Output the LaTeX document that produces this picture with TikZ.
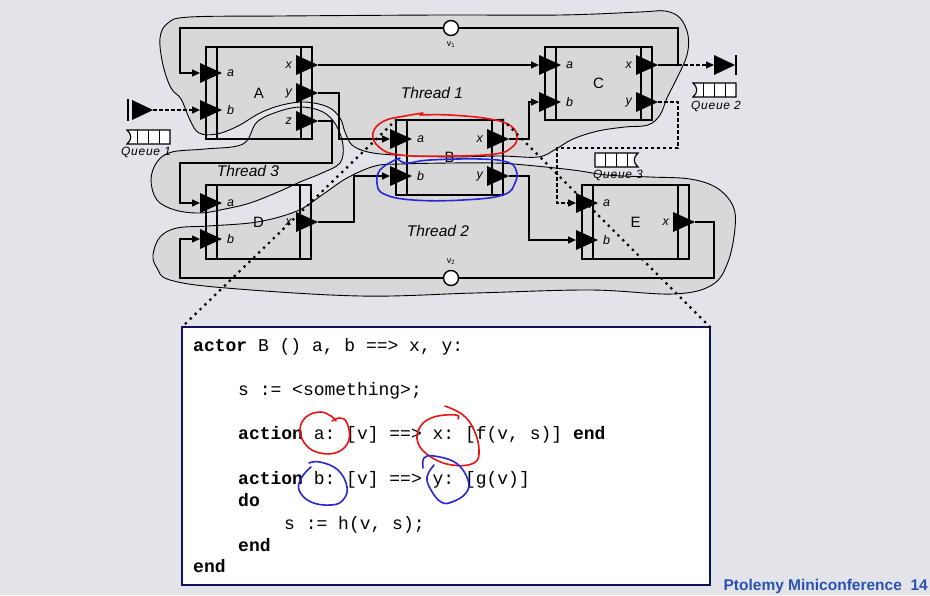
\documentclass[tikz,border=0pt]{standalone}
\usepackage{fontspec}
\setmainfont{Liberation Sans}
\setmonofont{Liberation Mono}
\newfontfamily\qfont[LetterSpace=6]{Liberation Sans}
\usetikzlibrary{arrows.meta,calc}
\definecolor{slidebg}{RGB}{226,228,233}
\definecolor{blobgray}{RGB}{216,216,216}
\definecolor{codeframe}{RGB}{16,16,96}
\definecolor{penred}{RGB}{235,20,20}
\definecolor{penblue}{RGB}{40,40,210}
\definecolor{footblue}{RGB}{42,82,178}
\tikzset{
  thread/.style={draw=black, line width=0.9pt, fill=blobgray},
  actorbox/.style={draw=black, line width=1.8pt, outer sep=0pt, inner sep=0pt,
                   font=\fontsize{15}{15}\selectfont},
  line/.style={line width=1.5pt},
  wire/.style={line, -{Triangle[length=8pt,width=7pt]}},
  qwire/.style={wire, dash pattern=on 3.5pt off 2.5pt},
  zoomline/.style={line width=3.2pt, line cap=round, dash pattern=on 0pt off 6.8pt},
  penmark/.style={line width=1.6pt, line cap=round, line join=round},
  portlbl/.style={font=\fontsize{12.5}{12.5}\selectfont\itshape, inner sep=0pt},
  threadlbl/.style={font=\fontsize{15.5}{15.5}\selectfont\itshape, inner sep=0pt},
  qlbl/.style={font=\fontsize{12}{12}\qfont\itshape, inner sep=0pt},
  vlbl/.style={font=\fontsize{9}{9}\selectfont, inner sep=0pt},
  relation/.style={circle, draw=black, line width=1.4pt, fill=white,
                   minimum size=15pt, inner sep=0pt},
  codebox/.style={draw=codeframe, line width=2pt, fill=white, outer sep=0pt},
  codeline/.style={anchor=base west, inner sep=0pt, font=\fontsize{18}{18}\ttfamily},
}
\newcommand{\kw}[1]{{\bfseries #1}}
% actor: name, centre x, centre y, width, height, label
\newcommand{\actor}[6]{%
  \node[actorbox, minimum width=#4pt, minimum height=#5pt] (#1) at (#2,#3) {#6};
  \draw[actorbox] ([xshift=11pt]#1.north west) -- ([xshift=11pt]#1.south west)
                  ([xshift=-11pt]#1.north east) -- ([xshift=-11pt]#1.south east);}
% input port, (name) = base of the triangle
\newcommand{\inport}[4]{%
  \coordinate (#1) at (#2,#3);
  \fill (#1) -- ++(0,-10) -- ++(22,10) -- ++(-22,10) -- cycle;
  \node[portlbl, anchor=west] (#1l) at ({#2+27},#3) {#4};}
% output port, (name) = tip of the triangle
\newcommand{\outport}[4]{%
  \coordinate (#1) at (#2,#3);
  \fill (#1) -- ++(-22,-10) -- ++(0,20) -- cycle;
  \node[portlbl, anchor=east] (#1l) at ({#2-26},#3) {#4};}
% queue: name, notch x, top, direction
\newcommand{\fifo}[4]{%
  \draw[line width=1.2pt, fill=white] (#2,#3) -- ++({#4*43},0) -- ++(0,14) -- (#2,{#3+14})
    .. controls ({#2+#4*5},{#3+10}) and ({#2+#4*5},{#3+4}) .. cycle;
  \foreach \k in {1,2,3} \draw[line width=1.2pt] ({#2+#4*10.75*\k},#3) -- ++(0,14);
  \coordinate (#1) at ({#2+#4*21.5},{#3+14});}

\begin{document}
\begin{tikzpicture}[x=1pt, y=-1pt]
  \fill[slidebg] (0,0) rectangle (930,595);
  \useasboundingbox (0,0) rectangle (930,595);
  % threads
  \draw[thread] plot[smooth cycle, tension=0.6] coordinates {
    (160,38) (168,23) (190,17) (280,16) (440,15) (560,15) (640,12) (665,11)
    (680,18) (688,35) (687,55) (677,78) (667,98) (660,115) (648,125) (625,127)
    (598,131) (573,139) (556,149) (538,157) (500,156) (450,157) (395,155)
    (368,152) (352,145) (345,132) (340,118) (328,107) (305,102) (282,105)
    (260,113) (238,126) (217,134) (199,133) (190,120) (181,99) (171,88) (163,65)};
  \draw[thread] plot[smooth cycle, tension=0.6] coordinates {
    (153,255) (160,237) (177,228) (208,226) (257,222) (297,211) (322,195)
    (347,178) (375,166) (400,164) (450,163) (495,163) (525,165) (573,170)
    (607,175) (650,177) (690,179) (717,188) (733,206) (735,228) (728,262)
    (712,285) (673,294) (590,290) (475,293) (360,296) (226,288) (170,280) (157,268)};
  \draw[thread] plot[smooth cycle, tension=0.6] coordinates {
    (172,152) (205,149) (243,144) (257,122) (280,111) (302,107) (323,112)
    (336,125) (343,145) (340,163) (322,173) (300,182) (278,192) (250,203)
    (225,209) (200,213) (175,210) (157,200) (151,180) (157,162)};
  \node[threadlbl] (t1) at (432,93) {Thread 1};
  \node[threadlbl] (t2) at (438,231) {Thread 2};
  \node[threadlbl] (t3) at (248,171) {Thread 3};
  % actors
  \actor{A}{259}{93}{106}{92}{A}
  \actor{B}{449.5}{157.5}{107}{75}{B}
  \actor{C}{598.5}{83.5}{107}{73}{C}
  \actor{D}{258.5}{222}{105}{74}{D}
  \actor{E}{635.5}{222}{107}{74}{E}
  % ports
  \inport{Aa}{200}{73}{a}   \inport{Ab}{200}{110}{b}
  \outport{Ax}{318}{65}{x}  \outport{Ay}{318}{93}{y}  \outport{Az}{318}{121}{z}
  \inport{Ba}{390}{139}{a}  \inport{Bb}{390}{176}{b}
  \outport{Bx}{509}{139}{x} \outport{By}{509}{176}{y}
  \inport{Ca}{539}{65}{a}   \inport{Cb}{539}{102}{b}
  \outport{Cx}{658}{65}{x}  \outport{Cy}{658}{102}{y}
  \inport{Da}{200}{203}{a}  \inport{Db}{200}{239}{b}
  \outport{Dx}{318}{222}{x}
  \inport{Ea}{576}{203}{a}  \inport{Eb}{576}{240}{b}
  \outport{Ex}{695}{222}{x}
  % relations
  \node[relation] (v1) at (451,28) {};
  \node[vlbl] (v1l) at (451,45) {v\textsubscript{1}};
  \node[relation] (v2) at (451,278) {};
  \node[vlbl] (v2l) at (451,262) {v\textsubscript{2}};
  \coordinate (topR) at (678,28);  \coordinate (topL) at (180,28);
  \coordinate (botR) at (714,278); \coordinate (botL) at (180,278);
  \coordinate (bendz) at (180,163);
  \coordinate (Cxj) at (678,65);
  \coordinate (cq1) at (678,148);  \coordinate (cq2) at (557,203);
  % connections
  \draw[line] (Cx) -| (topR) -- (v1);
  \draw[wire] (v1) -- (topL) |- (Aa);
  \draw[line] (Ex) -| (botR) -- (v2);
  \draw[wire] (v2) -- (botL) |- (Db);
  \draw[wire] (Ax) -- (Ca);
  \draw[wire] (Ay) -- ++(21,0) |- (Ba);
  \draw[wire] (Az) -- ++(14,0) |- (bendz) |- (Da);
  \draw[wire] (Dx) -- ++(36,0) |- (Bb);
  \draw[wire] (Bx) -- ++(20,0) |- (Cb);
  \draw[wire] (By) -- ++(20,0) |- (Eb);
  % queues
  \coordinate (src1) at (153,110);
  \fill (src1) -- ++(-21,-10) -- ++(0,20) -- cycle;
  \draw[line width=1.6pt] (128,99) -- (128,121);
  \draw[qwire] (src1) -- (Ab);
  \fifo{q1}{127}{130}{1}
  \node[qlbl] (q1l) at (146,152) {Queue 1};
  \coordinate (snk2) at (714,65);
  \fill (snk2) -- ++(0,-10) -- ++(21,10) -- ++(-21,10) -- cycle;
  \draw[line width=1.6pt] (736,55) -- (736,75);
  \draw[qwire] (Cxj) -- (snk2);
  \fifo{q2}{693}{83}{1}
  \node[qlbl] (q2l) at (716,106) {Queue 2};
  \draw[qwire] (Cy) -| (cq1) -| (cq2) -- (Ea);
  \fifo{q3}{638}{153}{-1}
  \node[qlbl] (q3l) at (618,175) {Queue 3};
  % pen marks on B
  \draw[penmark, penred] plot[smooth, tension=0.7] coordinates {
    (423,113) (405,116) (384,121) (373,133) (379,147) (400,155) (450,156)
    (495,154) (511,148) (517,138) (511,126) (490,119) (450,115) (420,115)};
  \draw[penmark, penblue] plot[smooth, tension=0.7] coordinates {
    (400,158) (393,161) (380,170) (377,183) (384,194) (413,200) (463,200)
    (503,195) (515,183) (516,170) (507,162) (480,159) (430,160) (407,163) (398,159)};
  % code of B
  \node[codebox, minimum width=528pt, minimum height=258pt] (code) at (446,456) {};
  \draw[zoomline] (B.north west) -- (code.north west);
  \draw[zoomline] (B.north east) -- (code.north east);
  \node[codeline] (c1) at (193,351) {\kw{actor} B () a, b ==> x, y:};
  \node[codeline] (c2) at (238,395) {s := <something>;};
  \node[codeline] (c3) at (238,439) {\kw{action} a: [v] ==> x: [f(v, s)] \kw{end}};
  \node[codeline] (c4) at (238,484) {\kw{action} b: [v] ==> y: [g(v)]};
  \node[codeline] (c5) at (238,506) {\kw{do}};
  \node[codeline] (c6) at (284,529) {s := h(v, s);};
  \node[codeline] (c7) at (238,551) {\kw{end}};
  \node[codeline] (c8) at (193,572) {\kw{end}};
  \draw[penmark, penred] plot[smooth, tension=0.7] coordinates {
    (336,421) (331,416) (320,412) (306,417) (300,430) (306,445) (320,453)
    (338,452) (349,440) (347,423) (340,418) (332,421)};
  \draw[penmark, penred] plot[smooth, tension=0.7] coordinates {
    (445,406) (463,415) (474,430) (479,450) (474,463) (452,465) (431,457)
    (418,443) (420,427) (434,417) (456,415) (458,419)};
  \draw[penmark, penblue] plot[smooth, tension=0.7] coordinates {
    (309,463) (320,462) (338,470) (347,487) (343,500) (331,505) (311,502)
    (299,490) (302,477) (311,467)};
  \draw[penmark, penblue] plot[smooth, tension=0.7] coordinates {
    (423,468) (424,458) (434,456) (456,463) (468,480) (466,493) (452,502)
    (441,502) (431,490) (427,477) (434,465)};
  % footer
  \node[anchor=base east, inner sep=0pt, text=footblue,
        font=\fontsize{15.5}{15.5}\selectfont\bfseries] (foot) at (928,590)
        {Ptolemy Miniconference \ 14};
\end{tikzpicture}
\end{document}
